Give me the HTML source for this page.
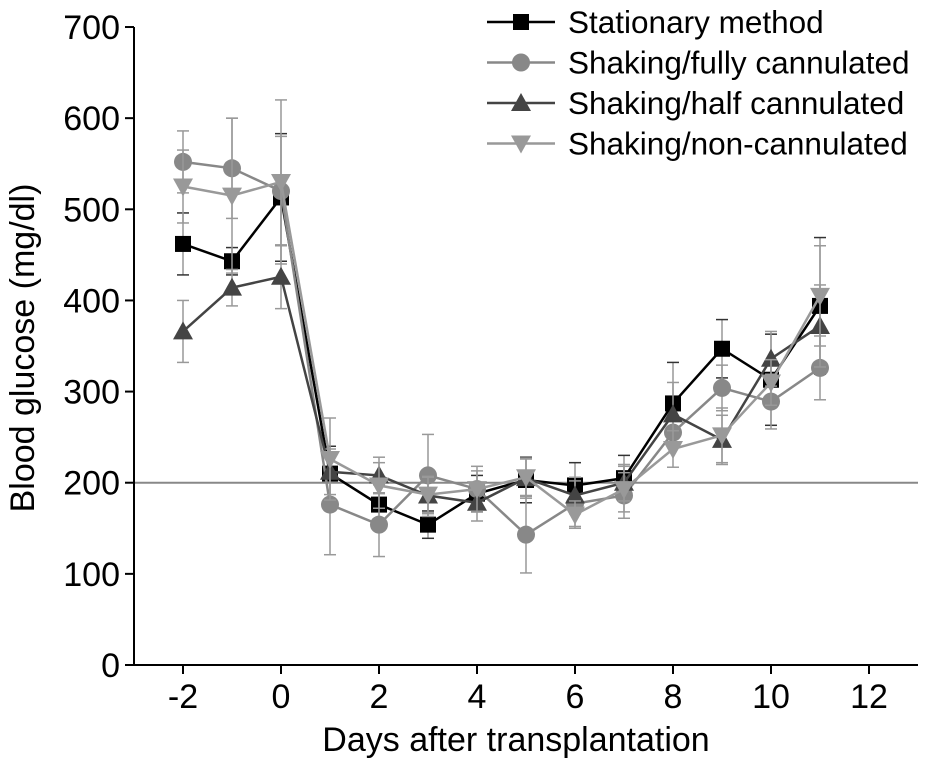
<!DOCTYPE html>
<html><head><meta charset="utf-8"><style>
body{margin:0;background:#fff}
svg{display:block;font-family:"Liberation Sans",sans-serif}
</style></head><body>
<svg id="c" width="930" height="770"></svg>
<script>
const days=[-2,-1,0,1,2,3,4,5,6,7,8,9,10,11];
const seriesNames=["Stationary method","Shaking/fully cannulated","Shaking/half cannulated","Shaking/non-cannulated"];
const stationary=[462,443,513,210,176,154,188,203,197,205,287,347,313,394];
const fully=[552,545,520,176,154,208,193,143,177,186,255,304,289,326];
const half=[366,414,426,212,208,186,178,205,186,200,275,247,336,372];
const nonc=[525,515,530,226,197,187,193,206,165,193,237,252,310,405];
const errStat=[34,15,70,30,22,15,20,25,25,25,45,32,50,75];
const errFully=[34,55,60,55,35,45,20,42,25,25,15,25,30,35];
const errHalf=[34,20,35,25,20,20,20,22,20,20,35,27,30,45];
const errNon=[40,85,90,45,25,20,25,20,15,25,20,30,25,55];
const yTicks=[0,100,200,300,400,500,600,700];
const xTicks=[-2,0,2,4,6,8,10,12];
const refLine=200;
const NS="http://www.w3.org/2000/svg";
const svg=document.getElementById('c');
const X=d=>281+d*49, Y=v=>665-v*0.9114;
function el(t,a,p){const e=document.createElementNS(NS,t);for(const k in a)e.setAttribute(k,a[k]);(p||svg).appendChild(e);return e;}
let ax=el('line',{x1:134,y1:27,x2:134,y2:666,stroke:'#000','stroke-width':2});

let bx=el('line',{x1:133,y1:665,x2:918,y2:665,stroke:'#000','stroke-width':2});

yTicks.forEach(v=>{el('line',{x1:125,y1:Y(v),x2:134,y2:Y(v),stroke:'#000','stroke-width':2});
 const t=el('text',{x:120,y:Y(v)+12,'text-anchor':'end','font-size':34});t.textContent=v;
 });
xTicks.forEach(v=>{el('line',{x1:X(v),y1:665,x2:X(v),y2:674,stroke:'#000','stroke-width':2});
 const t=el('text',{x:X(v),y:708,'text-anchor':'middle','font-size':34});t.textContent=v;
 });
let xt=el('text',{x:516,y:751,'text-anchor':'middle','font-size':34});xt.textContent='Days after transplantation';

let yt=el('text',{x:0,y:0,'text-anchor':'middle','font-size':34,transform:'translate(34,348) rotate(-90)'});yt.textContent='Blood glucose (mg/dl)';

let rl=el('line',{x1:135,y1:Y(refLine),x2:918,y2:Y(refLine),stroke:'#888','stroke-width':2});

const series=[[stationary,errStat,'#000','#000','sq'],[fully,errFully,'#888','#888','ci'],[half,errHalf,'#444','#444','tu'],[nonc,errNon,'#999','#999','td']];
function marker(g,x,y,type,col){
 if(type==='sq')return el('rect',{x:x-8,y:y-8,width:16,height:16,fill:col},g);
 if(type==='ci')return el('circle',{cx:x,cy:y,r:9,fill:col},g);
 if(type==='tu')return el('polygon',{points:`${x},${y-10} ${x-10},${y+8} ${x+10},${y+8}`,fill:col},g);
 return el('polygon',{points:`${x},${y+10} ${x-10},${y-8} ${x+10},${y-8}`,fill:col},g);
}
series.forEach(([vals,err,col,lc,type],si)=>{
 const g=el('g',{});
 vals.forEach((v,i)=>{const x=X(days[i]);
  const e=el('line',{x1:x,y1:Y(v-err[i]),x2:x,y2:Y(v+err[i]),stroke:'#999','stroke-width':1.5},g);
  
  [v-err[i],v+err[i]].forEach(b=>el('line',{x1:x-6,y1:Y(b),x2:x+6,y2:Y(b),stroke:si===0?'#333':'#999','stroke-width':1.5},g));
 });
 const p=el('polyline',{points:vals.map((v,i)=>X(days[i])+','+Y(v)).join(' '),fill:'none',stroke:lc,'stroke-width':2.5},g);
 
 vals.forEach((v,i)=>{const m=marker(g,X(days[i]),Y(v),type,col);
  });
 const ly=22+si*40.5;
 const lg=el('g',{});
 el('line',{x1:487,y1:ly,x2:555,y2:ly,stroke:lc,'stroke-width':2.5},lg);
 marker(lg,521,ly,type,col);
 const t=el('text',{x:568,y:ly+11,'font-size':31.5},lg);t.textContent=seriesNames[si];
});
</script>
</body></html>
